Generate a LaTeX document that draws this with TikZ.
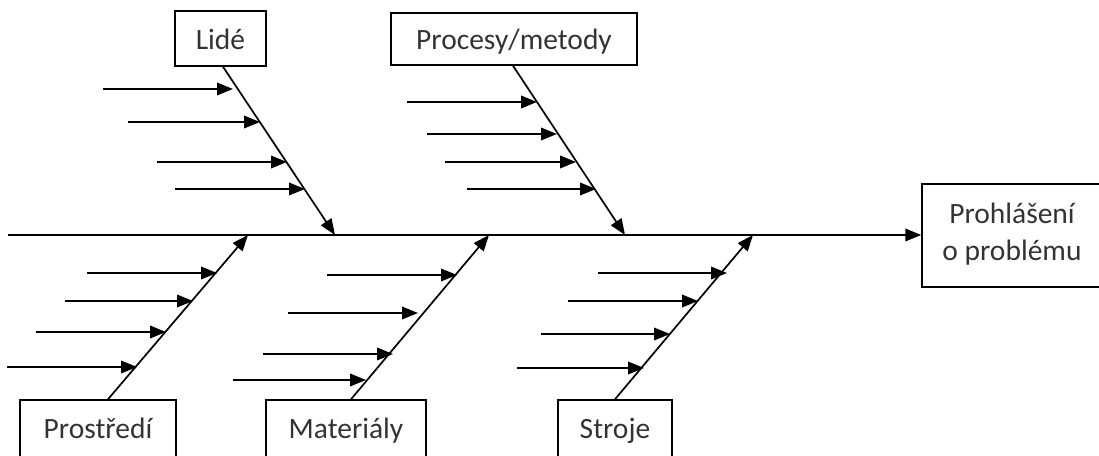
\documentclass[tikz,border=0pt]{standalone}
\usepackage{fontspec}
\setmainfont{Carlito}
\usetikzlibrary{arrows.meta}

\tikzset{
  labelfont/.style={font=\fontsize{29.5}{37}\selectfont, text=black!80},
  catbox/.style={draw, line width=1.5pt, inner sep=0pt, labelfont,
                 text height=21pt, text depth=0pt},
  lowbox/.style={catbox, text height=21pt, text depth=25pt,
                 minimum height=80pt},
  tip/.style={-{Triangle[length=16pt,width=12.5pt]}},
  spine/.style={line width=2pt, tip},
  bone/.style={line width=1.7pt, tip},
  cause/.style={line width=2pt, tip}
}

\begin{document}
\begin{tikzpicture}[x=1pt,y=-1pt]
  \useasboundingbox (0,0) rectangle (1099,455);
  \clip (0,0) rectangle (1099,455);

  % effect box at the head of the fish
  \node[draw, line width=1.5pt, minimum width=198pt, minimum height=103pt]
    (problem) at (1021,235.5) {};
  \node[labelfont, anchor=base] (problemA) at (1012,223) {Prohlášení};
  \node[labelfont, anchor=base] (problemB) at (1012,260) {o problému};

  % main spine
  \coordinate (tail) at (8,235);
  \draw[spine] (tail) -- (tail -| problem.west);

  % category boxes
  \node[catbox, minimum width=91pt, minimum height=55pt]  (lide)    at (220.5,38.5) {Lidé};
  \node[catbox, minimum width=246pt, minimum height=52pt] (procesy) at (514,39)     {Procesy/metody};
  \node[lowbox, minimum width=156pt] (prostredi) at (98,440)  {Prostředí};
  \node[lowbox, minimum width=160pt] (materialy) at (346,440) {Materiály};
  \node[lowbox, minimum width=114pt] (stroje)    at (615,440) {Stroje};

  % points where the bones meet the spine
  \coordinate (jLide)      at (335,235);
  \coordinate (jProcesy)   at (625,235);
  \coordinate (jProstredi) at (248,235);
  \coordinate (jMaterialy) at (489,235);
  \coordinate (jStroje)    at (753,235);

  % bones
  \draw[bone] ([xshift=2.5pt]lide.south) -- (jLide);
  \draw[bone] ([xshift=-1pt]procesy.south) -- (jProcesy);
  \draw[bone] ([xshift=10pt]prostredi.north) -- (jProstredi);
  \draw[bone] ([xshift=5pt]materialy.north) -- (jMaterialy);
  \draw[bone] (stroje.north) -- (jStroje);

  % cause arrows: tail x / head x / y
  \foreach \tx/\hx/\yy [count=\i] in {
      103/233/89, 128/260/122, 157/287/162, 175/305/189,
      407/537/102, 427/557/134, 445/576/162, 467/596/189,
      87/217/273, 65/193/301, 36/166/332, 7/137/367,
      327/457/275, 288/418/313, 263/393/354, 233/366/380,
      598/727/273, 568/698/301, 541/670/334, 517/644/368} {
    \coordinate (ct\i) at (\tx,\yy);
    \coordinate (ch\i) at (\hx,\yy);
    \draw[cause] (ct\i) -- (ch\i);
  }
\end{tikzpicture}
\end{document}
